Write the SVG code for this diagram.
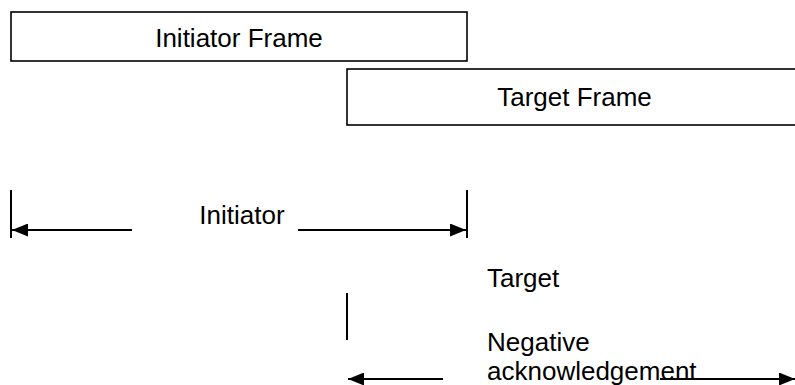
<svg xmlns="http://www.w3.org/2000/svg" width="795" height="385" viewBox="0 0 795 385">
<defs>
<style>
.box{fill:#fff;stroke:#000;stroke-width:1.6}
.ln{stroke:#000;stroke-width:2;fill:none}
.t{font-family:"Liberation Sans",Arial,sans-serif;font-size:26px;fill:#000}
</style>
<marker id="ah" viewBox="0 0 16 13" refX="16" refY="6.5" markerWidth="16" markerHeight="13" markerUnits="userSpaceOnUse" orient="auto">
<path d="M0,0 L16,6.5 L0,13 Z" fill="#000"/>
</marker>
</defs>
<rect width="795" height="385" fill="#fff"/>
<g id="initiator-frame">
<rect class="box" x="11" y="12" width="456" height="49"/>
<text class="t" x="239" y="47" text-anchor="middle">Initiator Frame</text>
</g>
<g id="target-frame">
<rect class="box" x="347" y="69" width="460" height="56"/>
<text class="t" x="574.5" y="106" text-anchor="middle">Target Frame</text>
</g>
<g id="initiator-label">
<text class="t" x="242" y="224" text-anchor="middle">Initiator</text>
</g>
<g id="target-label">
<text class="t" x="487" y="287">Target</text>
</g>
<g id="nack-label">
<text class="t" x="487" y="351">Negative</text>
<text class="t" x="487" y="380">acknowledgement</text>
</g>
<g id="connectors">
<line class="ln" x1="11" y1="190" x2="11" y2="238"/>
<line class="ln" x1="467" y1="190" x2="467" y2="238"/>
<line class="ln" x1="132" y1="230" x2="12" y2="230" marker-end="url(#ah)"/>
<line class="ln" x1="298" y1="230" x2="466" y2="230" marker-end="url(#ah)"/>
<line class="ln" x1="347" y1="293" x2="347" y2="340"/>
<line class="ln" x1="443" y1="379" x2="348" y2="379" marker-end="url(#ah)"/>
<line class="ln" x1="660" y1="379" x2="795" y2="379" marker-end="url(#ah)"/>
</g>
</svg>
